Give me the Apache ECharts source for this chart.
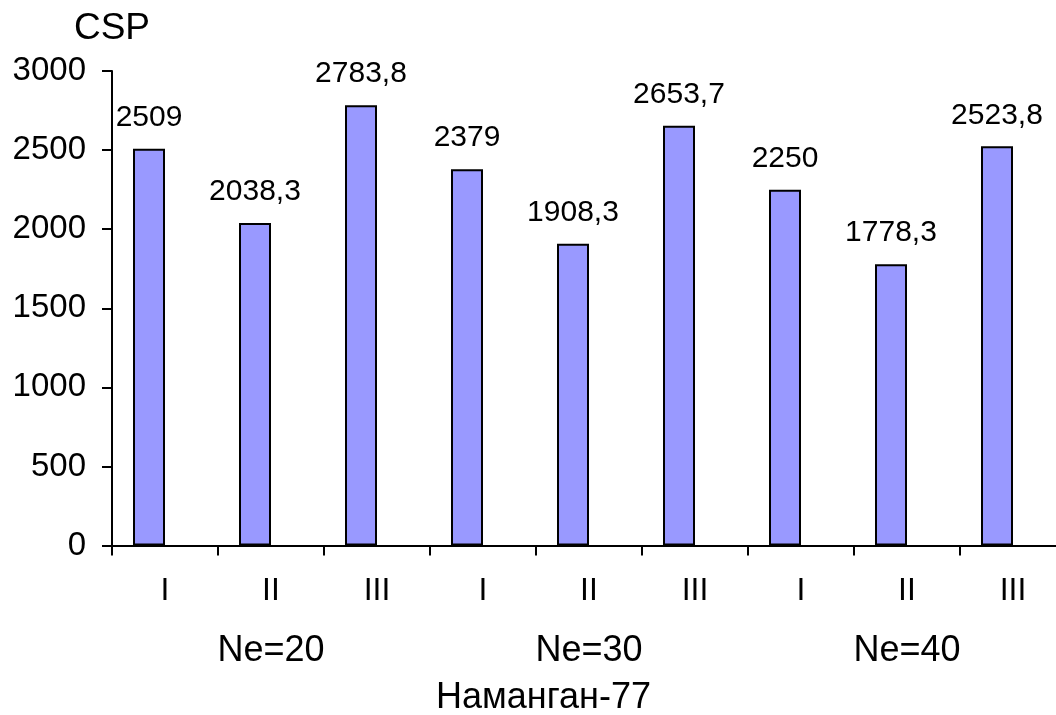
<!DOCTYPE html>
<html>
<head>
<meta charset="utf-8">
<script src="https://cdn.jsdelivr.net/npm/echarts@6/dist/echarts.min.js"></script>
<style>
  html, body { margin: 0; padding: 0; background: #ffffff; }
  #chart { width: 1056px; height: 715px; }
</style>
</head>
<body>
<div id="chart"></div>
<script>
// Sowing variants within each density group
const categories = ['I', 'II', 'III', 'I', 'II', 'III', 'I', 'II', 'III'];
// Density groups shown beneath the variants
const groups = ['Ne=20', 'Ne=30', 'Ne=40'];
// CSP values per variant
const cspValues = [2509, 2038.3, 2783.8, 2379, 1908.3, 2653.7, 2250, 1778.3, 2523.8];
// Second, empty series slot of the original clustered layout
const emptySlot = [null, null, null, null, null, null, null, null, null];
const yTicks = { min: 0, max: 3000, interval: 500 };

const FONT = "'Liberation Sans', Arial, sans-serif";

const chart = echarts.init(document.getElementById('chart'), null, { renderer: 'canvas' });

chart.setOption({
  backgroundColor: '#ffffff',
  animation: false,
  // plot area runs slightly past the right edge of the canvas
  grid: { left: 112, right: -10, top: 71, bottom: 169.5, containLabel: false, outerBoundsMode: 'none' },
  xAxis: [
    {
      type: 'category',
      data: categories,
      position: 'bottom',
      axisLine: { show: true, lineStyle: { color: '#000', width: 2 } },
      axisTick: { show: true, length: 10, alignWithLabel: false, lineStyle: { color: '#000', width: 2 } },
      axisLabel: { color: '#000', fontFamily: FONT, fontSize: 32, margin: 30, interval: 0 },
      splitLine: { show: false }
    },
    {
      type: 'category',
      data: groups,
      position: 'bottom',
      axisLine: { show: false },
      axisTick: { show: false },
      axisLabel: { color: '#000', fontFamily: FONT, fontSize: 36, margin: 88, interval: 0 },
      splitLine: { show: false }
    }
  ],
  yAxis: {
    type: 'value',
    min: yTicks.min,
    max: yTicks.max,
    interval: yTicks.interval,
    name: 'CSP',
    nameLocation: 'end',
    nameGap: 24,
    nameTextStyle: { color: '#000', fontFamily: FONT, fontSize: 37 },
    axisLine: { show: true, lineStyle: { color: '#000', width: 2 } },
    axisTick: { show: true, length: 10, lineStyle: { color: '#000', width: 2 } },
    axisLabel: { color: '#000', fontFamily: FONT, fontSize: 33, margin: 26, formatter: v => String(v) },
    splitLine: { show: false }
  },
  series: [
    {
      type: 'bar',
      name: 'CSP',
      data: cspValues,
      barWidth: 32,
      barGap: '0%',
      itemStyle: { color: '#9999FF', borderColor: '#000', borderWidth: 2 },
      label: {
        show: true,
        position: 'top',
        distance: 16,
        color: '#000',
        fontFamily: FONT,
        fontSize: 30,
        formatter: p => String(p.value).replace('.', ',')
      }
    },
    {
      type: 'bar',
      name: 'empty',
      data: emptySlot,
      barWidth: 32,
      barGap: '0%'
    }
  ],
  graphic: [
    {
      type: 'text',
      left: 436,
      top: 680,
      style: { text: 'Наманган-77', fill: '#000', font: "36px 'Liberation Sans', Arial, sans-serif" }
    }
  ]
});
</script>
</body>
</html>
